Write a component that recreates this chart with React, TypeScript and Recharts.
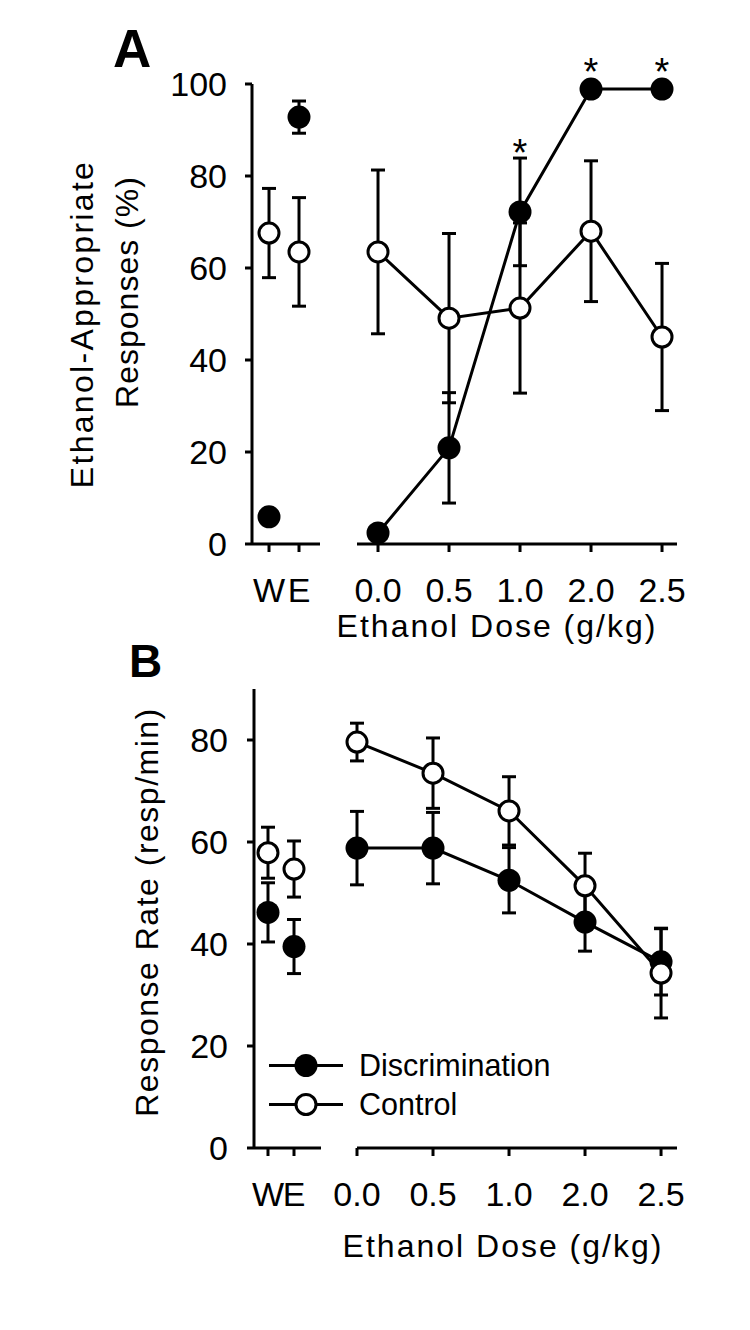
import React from "react";
import {
  ComposedChart,
  Line,
  Scatter,
  XAxis,
  YAxis,
  ErrorBar,
  Label,
} from "recharts";

const weLabels = ["W", "E"];
const doseLabels = ["0.0", "0.5", "1.0", "2.0", "2.5"];
const seriesNames = ["Discrimination", "Control"];

// Panel A: ethanol-appropriate responses (%)
const discWeA = [5.9, 92.8];
const discWeErrA = [0, 3.5];
const ctrlWeA = [67.6, 63.5];
const ctrlWeErrA = [9.7, 11.8];
const discDoseA = [2.4, 20.9, 72.2, 98.9, 98.9];
const discDoseErrA = [0, 12.0, 11.7, 0, 0];
const ctrlDoseA = [63.5, 49.1, 51.3, 68.0, 45.0];
const ctrlDoseErrA = [17.8, 18.4, 18.5, 15.3, 16.0];
const sigA = [false, false, true, true, true];
const ticksA = [0, 20, 40, 60, 80, 100];

// Panel B: response rate (resp/min)
const discWeB = [46.2, 39.5];
const discWeErrB = [5.8, 5.3];
const ctrlWeB = [57.9, 54.7];
const ctrlWeErrB = [5.0, 5.5];
const discDoseB = [58.8, 58.8, 52.5, 44.3, 36.5];
const discDoseErrB = [7.2, 7.0, 6.4, 5.7, 6.5];
const ctrlDoseB = [79.6, 73.5, 66.1, 51.4, 34.3];
const ctrlDoseErrB = [3.7, 6.9, 6.7, 6.4, 8.8];
const ticksB = [0, 20, 40, 60, 80];

const FONT = "'Liberation Sans', Arial, Helvetica, sans-serif";
const INK = "#000";
const SW = 3;

function rows(labels: string[], disc: number[], discErr: number[], ctrl: number[], ctrlErr: number[]) {
  return labels.map((_, i) => ({
    x: i,
    disc: disc[i],
    discErr: discErr[i],
    ctrl: ctrl[i],
    ctrlErr: ctrlErr[i],
  }));
}

const weRowsA = rows(weLabels, discWeA, discWeErrA, ctrlWeA, ctrlWeErrA);
const doseRowsA = rows(doseLabels, discDoseA, discDoseErrA, ctrlDoseA, ctrlDoseErrA);
const weRowsB = rows(weLabels, discWeB, discWeErrB, ctrlWeB, ctrlWeErrB);
const doseRowsB = rows(doseLabels, discDoseB, discDoseErrB, ctrlDoseB, ctrlDoseErrB);

const starRowsA = doseRowsA
  .filter((_, i) => sigA[i])
  .map((r) => ({ x: r.x, star: r.disc + r.discErr, lift: r.discErr > 0 ? 0 : 12 }));

function FilledDot(props: any) {
  const { cx, cy, index } = props;
  if (cx == null || cy == null) return null;
  return <circle key={`f${index}`} cx={cx} cy={cy} r={11.5} fill={INK} />;
}

function OpenDot(props: any) {
  const { cx, cy, index } = props;
  if (cx == null || cy == null) return null;
  return (
    <circle key={`o${index}`} cx={cx} cy={cy} r={10} fill="#fff" stroke={INK} strokeWidth={SW} />
  );
}

function StarMark(props: any) {
  const { cx, cy, payload } = props;
  const center = cy - payload.lift - 14;
  return (
    <text x={cx} y={center + 22} textAnchor="middle" fontSize={38} fill={INK}>
      *
    </text>
  );
}

const axisStyle = { stroke: INK, strokeWidth: SW };
const tickStyle = { fontSize: 34, fill: INK };

type Geo = {
  top: number;
  plotTop: number;
  plotBottom: number;
  yAxisX: number;
  wePlotRight: number;
  weDomain: [number, number];
  doseLeft: number;
  dosePlotLeft: number;
  dosePlotRight: number;
  doseDomain: [number, number];
};

const H = 700;
const XH = 60;

function WeChart({ geo, data, yDomain, yTicks, tickMargin, title }: any) {
  const width = geo.wePlotRight + 10;
  return (
    <div style={{ position: "absolute", left: 0, top: geo.top }}>
      <ComposedChart
        width={width}
        height={H}
        data={data}
        margin={{
          top: geo.plotTop - geo.top,
          right: 10,
          left: 0,
          bottom: geo.top + H - geo.plotBottom - XH,
        }}
      >
        <XAxis
          type="number"
          dataKey="x"
          domain={geo.weDomain}
          ticks={[0, 1]}
          interval={0}
          tickFormatter={(v) => weLabels[v]}
          height={XH}
          axisLine={axisStyle}
          tickLine={axisStyle}
          tickSize={8}
          tickMargin={26}
          tick={tickStyle}
        />
        <YAxis
          domain={yDomain}
          ticks={yTicks}
          interval={0}
          width={geo.yAxisX}
          axisLine={axisStyle}
          tickLine={axisStyle}
          tickSize={7}
          tickMargin={tickMargin}
          tick={tickStyle}
        >
          <Label content={title} />
        </YAxis>
        <Scatter dataKey="disc" shape={FilledDot} isAnimationActive={false}>
          <ErrorBar dataKey="discErr" direction="y" width={7} stroke={INK} strokeWidth={SW} isAnimationActive={false} />
        </Scatter>
        <Scatter dataKey="ctrl" shape={OpenDot} isAnimationActive={false}>
          <ErrorBar dataKey="ctrlErr" direction="y" width={7} stroke={INK} strokeWidth={SW} isAnimationActive={false} />
        </Scatter>
      </ComposedChart>
    </div>
  );
}

function DoseChart({ geo, data, yDomain, yTicks, titleX, titleY, stars }: any) {
  const width = 360;
  return (
    <div style={{ position: "absolute", left: geo.doseLeft, top: geo.top }}>
      <ComposedChart
        width={width}
        height={H}
        data={data}
        margin={{
          top: geo.plotTop - geo.top,
          right: geo.doseLeft + width - geo.dosePlotRight,
          left: geo.dosePlotLeft - geo.doseLeft,
          bottom: geo.top + H - geo.plotBottom - XH,
        }}
      >
        <XAxis
          type="number"
          dataKey="x"
          domain={geo.doseDomain}
          ticks={[0, 1, 2, 3, 4]}
          interval={0}
          tickFormatter={(v) => doseLabels[v]}
          height={XH}
          axisLine={axisStyle}
          tickLine={axisStyle}
          tickSize={8}
          tickMargin={26}
          tick={tickStyle}
        >
          <Label
            content={() => (
              <text x={titleX} y={titleY} textAnchor="middle" fontSize={32} letterSpacing={2} fill={INK}>
                Ethanol Dose (g/kg)
              </text>
            )}
          />
        </XAxis>
        <YAxis hide domain={yDomain} ticks={yTicks} />
        <Line
          type="linear"
          dataKey="disc"
          stroke={INK}
          strokeWidth={SW}
          dot={FilledDot}
          activeDot={false}
          isAnimationActive={false}
        >
          <ErrorBar dataKey="discErr" direction="y" width={7} stroke={INK} strokeWidth={SW} isAnimationActive={false} />
        </Line>
        <Line
          type="linear"
          dataKey="ctrl"
          stroke={INK}
          strokeWidth={SW}
          dot={OpenDot}
          activeDot={false}
          isAnimationActive={false}
        >
          <ErrorBar dataKey="ctrlErr" direction="y" width={7} stroke={INK} strokeWidth={SW} isAnimationActive={false} />
        </Line>
        {stars && (
          <Scatter data={stars} dataKey="star" shape={StarMark} isAnimationActive={false} />
        )}
      </ComposedChart>
    </div>
  );
}

const geoA: Geo = {
  top: 0,
  plotTop: 84,
  plotBottom: 544,
  yAxisX: 252,
  wePlotRight: 320,
  weDomain: [-0.567, 1.7],
  doseLeft: 330,
  dosePlotLeft: 357,
  dosePlotRight: 677,
  doseDomain: [-0.296, 4.211],
};

const geoB: Geo = {
  top: 600,
  plotTop: 689,
  plotBottom: 1148,
  yAxisX: 254,
  wePlotRight: 321,
  weDomain: [-0.538, 2.038],
  doseLeft: 331,
  dosePlotLeft: 357,
  dosePlotRight: 677,
  doseDomain: [0, 4.21],
};

const titleA = () => (
  <g fill={INK} fontSize={32}>
    <text x={93} y={324} transform="rotate(-90, 93, 324)" textAnchor="middle" letterSpacing={2.3}>
      Ethanol-Appropriate
    </text>
    <text x={138} y={292} transform="rotate(-90, 138, 292)" textAnchor="middle" letterSpacing={1}>
      Responses (%)
    </text>
  </g>
);

const titleB = () => (
  <text
    x={158}
    y={312}
    transform="rotate(-90, 158, 312)"
    textAnchor="middle"
    fontSize={32}
    letterSpacing={1.5}
    fill={INK}
  >
    Response Rate (resp/min)
  </text>
);

function SeriesLegend() {
  return (
    <div style={{ position: "absolute", left: 269, top: 1046 }}>
      {seriesNames.map((name, i) => (
        <div key={name} style={{ display: "flex", alignItems: "center", height: 39 }}>
          <svg width={74} height={39} style={{ display: "block" }}>
            <line x1={0} x2={74} y1={19.5} y2={19.5} stroke={INK} strokeWidth={SW} />
            {i === 0 ? (
              <circle cx={37} cy={19.5} r={11.5} fill={INK} />
            ) : (
              <circle cx={37} cy={19.5} r={10} fill="#fff" stroke={INK} strokeWidth={SW} />
            )}
          </svg>
          <span style={{ marginLeft: 16, fontSize: 30.5, lineHeight: "39px" }}>{name}</span>
        </div>
      ))}
    </div>
  );
}

export default function App() {
  return (
    <div
      style={{
        position: "absolute",
        left: 0,
        top: 0,
        width: 750,
        height: 1330,
        background: "#fff",
        color: INK,
        fontFamily: FONT,
      }}
    >
      <div style={{ position: "absolute", left: 113, top: 22, fontSize: 53, fontWeight: 700, lineHeight: 1 }}>
        A
      </div>
      <div style={{ position: "absolute", left: 129, top: 638, fontSize: 46, fontWeight: 700, lineHeight: 1 }}>
        B
      </div>

      <WeChart geo={geoA} data={weRowsA} yDomain={[0, 100]} yTicks={ticksA} tickMargin={18} title={titleA} />
      <DoseChart
        geo={geoA}
        data={doseRowsA}
        yDomain={[0, 100]}
        yTicks={ticksA}
        titleX={167}
        titleY={637}
        stars={starRowsA}
      />

      <WeChart geo={geoB} data={weRowsB} yDomain={[0, 90]} yTicks={ticksB} tickMargin={19} title={titleB} />
      <DoseChart geo={geoB} data={doseRowsB} yDomain={[0, 90]} yTicks={ticksB} titleX={172} titleY={657} />

      <SeriesLegend />
    </div>
  );
}
